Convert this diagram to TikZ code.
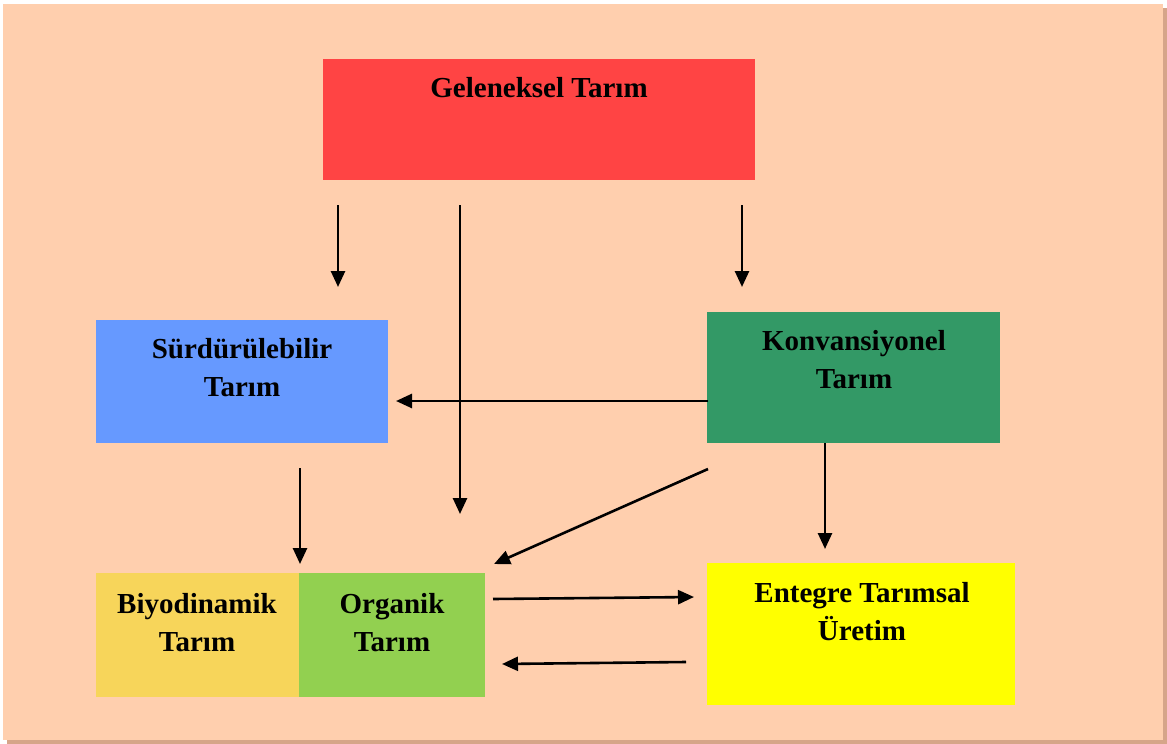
\documentclass[tikz,border=0pt]{standalone}
\usepackage{fontspec}
\setmainfont{Liberation Serif}
\usetikzlibrary{arrows.meta}
\definecolor{bgpeach}{HTML}{FFCFAE}
\definecolor{shadowc}{HTML}{D6A589}
\definecolor{cred}{HTML}{FF4444}
\definecolor{cblue}{HTML}{6699FF}
\definecolor{cgreen}{HTML}{339966}
\definecolor{cyel}{HTML}{F7D55A}
\definecolor{clime}{HTML}{92D050}
\definecolor{cyellow}{HTML}{FFFF00}
\tikzset{
  txt/.style={font=\fontsize{29}{38}\selectfont\bfseries, align=center, inner sep=0pt, anchor=north},
  arr/.style={line width=2.6pt, -{Triangle[length=16pt,width=14pt]}},
}
\begin{document}
\begin{tikzpicture}[x=1pt,y=-1pt]
\useasboundingbox (0,0) rectangle (1167,744);
% background with shadow
\fill[shadowc] (7,8) rectangle (1167,744);
\fill[bgpeach] (3,4) rectangle (1163,740);
% boxes
\fill[cred] (323,59) rectangle (755,180);
\fill[cblue] (96,320) rectangle (388,443);
\fill[cgreen] (707,312) rectangle (1000,443);
\fill[cyel] (96,573) rectangle (299,697);
\fill[clime] (299,573) rectangle (485,697);
\fill[cyellow] (707,563) rectangle (1015,705);
% texts
\node[txt] (gel) at (539,77) {Geleneksel Tarım};
\node[txt] (sur) at (242,338) {Sürdürülebilir\\Tarım};
\node[txt] (kon) at (854,330) {Konvansiyonel\\Tarım};
\node[txt] (biy) at (197,593) {Biyodinamik\\Tarım};
\node[txt] (org) at (392,593) {Organik\\Tarım};
\node[txt] (ent) at (862,582) {Entegre Tarımsal\\Üretim};
% arrow end points
\coordinate (a1s) at (338,205); \coordinate (a1e) at (338,287);
\coordinate (a2s) at (460,205); \coordinate (a2e) at (460,514);
\coordinate (a3s) at (742,205); \coordinate (a3e) at (742,287);
\coordinate (a4s) at (708,401); \coordinate (a4e) at (396,401);
\coordinate (a5s) at (300,468); \coordinate (a5e) at (300,564);
\coordinate (a6s) at (708,469); \coordinate (a6e) at (494,564);
\coordinate (a7s) at (825,443); \coordinate (a7e) at (825,549);
\coordinate (a8s) at (493,599); \coordinate (a8e) at (694,597);
\coordinate (a9s) at (686,662); \coordinate (a9e) at (502,664);
\draw[arr] (a1s) -- (a1e);
\draw[arr] (a2s) -- (a2e);
\draw[arr] (a3s) -- (a3e);
\draw[arr] (a4s) -- (a4e);
\draw[arr] (a5s) -- (a5e);
\draw[arr] (a6s) -- (a6e);
\draw[arr] (a7s) -- (a7e);
\draw[arr] (a8s) -- (a8e);
\draw[arr] (a9s) -- (a9e);
\end{tikzpicture}
\end{document}
